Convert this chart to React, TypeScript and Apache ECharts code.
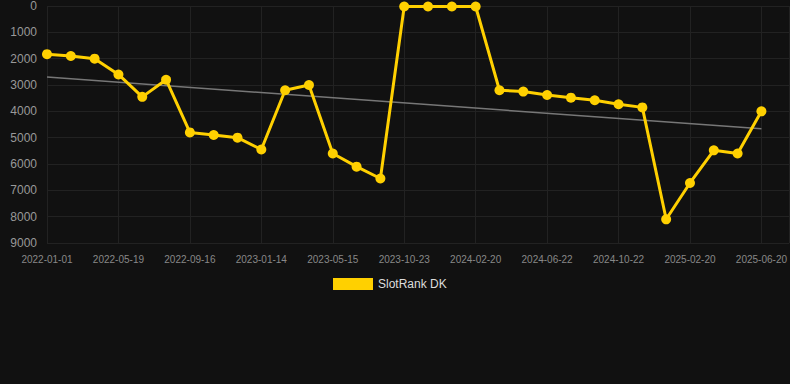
import React, { useEffect, useRef } from "react";
import * as echarts from "echarts";

const dates: string[] = [
  "2022-01-01", "2022-02-15", "2022-04-02", "2022-05-19", "2022-07-06", "2022-08-01",
  "2022-09-16", "2022-10-30", "2022-12-01", "2023-01-14", "2023-02-28", "2023-04-01",
  "2023-05-15", "2023-07-10", "2023-09-01", "2023-10-23", "2023-12-01", "2024-01-10",
  "2024-02-20", "2024-04-01", "2024-05-12", "2024-06-22", "2024-08-01", "2024-09-10",
  "2024-10-22", "2024-12-01", "2025-01-10", "2025-02-20", "2025-04-01", "2025-05-10",
  "2025-06-20",
];

const rankValues: number[] = [
  1830, 1900, 2000, 2600, 3450, 2800, 4800, 4900, 5000, 5450, 3200, 3000,
  5600, 6100, 6550, 20, 20, 20, 20, 3200, 3250, 3380, 3480, 3580, 3730, 3850,
  8100, 6720, 5480, 5600, 4000,
];

const trendStart = 2700;
const trendEnd = 4660;

const yTicks = { min: 0, max: 9000, interval: 1000 };

export default function App() {
  const ref = useRef<HTMLDivElement>(null);
  useEffect(() => {
    document.body.style.margin = "0";
    document.body.style.background = "#111111";
    const chart = echarts.init(ref.current!, undefined, { renderer: "svg" });
    const mainData = rankValues.map((v, i) => [i, v]);
    const trendData = [
      [0, trendStart],
      [rankValues.length - 1, trendEnd],
    ];
    chart.setOption({
      animation: false,
      backgroundColor: "#111111",
      textStyle: { fontFamily: "'Liberation Sans', Arial, sans-serif" },
      grid: { left: 47, right: 0, top: 6, bottom: 141 },
      legend: {
        data: ["SlotRank DK"],
        top: 273,
        left: 328,
        icon: "rect",
        itemWidth: 40,
        itemHeight: 12,
        itemGap: 10,
        textStyle: { color: "#dddddd", fontSize: 12, padding: [0, 0, 0, 0] },
      },
      xAxis: {
        type: "value",
        min: 0,
        max: 31.17,
        interval: 3,
        axisLine: { show: false },
        axisTick: { show: false },
        axisLabel: {
          color: "#888888",
          fontSize: 10,
          margin: 11,
          showMaxLabel: false,
          formatter: (v: number) =>
            Number.isInteger(v) && dates[v] !== undefined ? dates[v] : "",
        },
        splitLine: { show: true, lineStyle: { color: "#222222", width: 1 } },
      },
      yAxis: {
        type: "value",
        inverse: true,
        min: yTicks.min,
        max: yTicks.max,
        interval: yTicks.interval,
        axisLine: { show: false },
        axisTick: { show: false },
        axisLabel: {
          color: "#999999",
          fontSize: 12,
          margin: 10,
          formatter: (v: number) => String(v),
        },
        splitLine: { show: true, lineStyle: { color: "#222222", width: 1 } },
      },
      series: [
        {
          name: "Trend",
          type: "line",
          data: trendData,
          symbol: "none",
          lineStyle: { color: "#777777", width: 1.5 },
          z: 1,
        },
        {
          name: "SlotRank DK",
          type: "line",
          data: mainData,
          symbol: "circle",
          symbolSize: 10,
          itemStyle: { color: "#FFD000" },
          lineStyle: { color: "#FFD000", width: 3 },
          z: 2,
        },
      ],
    });
    return () => chart.dispose();
  }, []);
  return <div ref={ref} style={{ width: 790, height: 384 }} />;
}
